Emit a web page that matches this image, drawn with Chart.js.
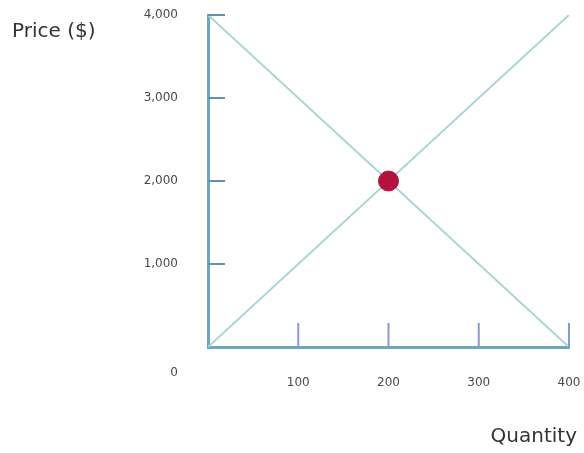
<!DOCTYPE html>
<html>
<head>
<meta charset="utf-8">
<title>Supply and demand</title>
<script src="https://cdn.jsdelivr.net/npm/chart.js@4.4.0/dist/chart.umd.min.js"></script>
<style>
  html, body { margin: 0; padding: 0; background: #fff; }
  canvas { display: block; }
</style>
</head>
<body>
<canvas id="marketChart" width="584" height="453"></canvas>
<script>
// data
const quantities = [0, 400];
const demandPrices = [4000, 0];
const supplyPrices = [0, 4000];
const eqQuantity = [200];
const eqPrice = [2000];
const xTicks = [0, 100, 200, 300, 400];
const yTicks = [0, 1000, 2000, 3000, 4000];

const colors = {
  axis: '#6ca7bd',
  yTick: '#5f93a8',
  xTick: '#8d97cc',
  line: '#a9d4d6',
  point: '#b3123f',
  label: '#4a4a4a',
  title: '#333333'
};

// tick marks drawn inside the plot + the shared "0" + axis titles
const extrasPlugin = {
  id: 'extras',
  afterDraw(chart) {
    const { ctx, scales: { x, y } } = chart;
    ctx.save();
    ctx.lineWidth = 2;
    ctx.strokeStyle = colors.yTick;
    yTicks.forEach(v => {
      if (v === 0) return;
      const py = y.getPixelForValue(v);
      ctx.beginPath();
      ctx.moveTo(x.left, py);
      ctx.lineTo(x.left + 17, py);
      ctx.stroke();
    });
    ctx.strokeStyle = colors.xTick;
    xTicks.forEach(v => {
      if (v === 0) return;
      const px = x.getPixelForValue(v);
      ctx.beginPath();
      ctx.moveTo(px, y.bottom);
      ctx.lineTo(px, y.bottom - 24);
      ctx.stroke();
    });

    ctx.fillStyle = colors.label;
    ctx.font = '12px "DejaVu Sans"';
    ctx.textAlign = 'right';
    ctx.textBaseline = 'middle';
    ctx.fillText('0', x.left - 30, y.getPixelForValue(0) + 26);

    ctx.fillStyle = colors.title;
    ctx.font = '20px "DejaVu Sans"';
    ctx.textAlign = 'left';
    ctx.fillText('Price ($)', 12, 32);
    ctx.textAlign = 'right';
    ctx.fillText('Quantity', 577, 437);
    ctx.restore();
  }
};

new Chart(document.getElementById('marketChart'), {
  type: 'line',
  data: {
    datasets: [
      {
        label: 'Demand',
        data: quantities.map((q, i) => ({ x: q, y: demandPrices[i] })),
        borderColor: colors.line,
        borderWidth: 2,
        pointRadius: 0,
        order: 2
      },
      {
        label: 'Supply',
        data: quantities.map((q, i) => ({ x: q, y: supplyPrices[i] })),
        borderColor: colors.line,
        borderWidth: 2,
        pointRadius: 0,
        order: 2
      },
      {
        label: 'Equilibrium',
        data: eqQuantity.map((q, i) => ({ x: q, y: eqPrice[i] })),
        showLine: false,
        pointRadius: 10,
        pointBackgroundColor: colors.point,
        pointBorderColor: colors.point,
        order: 1
      }
    ]
  },
  options: {
    responsive: false,
    animation: false,
    layout: { padding: { left: 0, top: 15, right: 15, bottom: 0 } },
    plugins: { legend: { display: false }, tooltip: { enabled: false } },
    scales: {
      x: {
        type: 'linear',
        min: 0,
        max: 400,
        afterBuildTicks: s => { s.ticks = xTicks.map(v => ({ value: v })); },
        afterFit: s => { s.height = 106; s.paddingLeft = 0; s.paddingRight = 0; },
        grid: { display: true, drawOnChartArea: false, drawTicks: false },
        border: { display: true, color: colors.axis, width: 3 },
        ticks: {
          padding: 29,
          color: colors.label,
          font: { family: 'DejaVu Sans', size: 12 },
          maxRotation: 0,
          callback: v => v === 0 ? '' : String(v)
        }
      },
      y: {
        type: 'linear',
        min: 0,
        max: 4000,
        afterBuildTicks: s => { s.ticks = yTicks.map(v => ({ value: v })); },
        afterFit: s => { s.width = 208; s.paddingTop = 0; s.paddingBottom = 0; },
        grid: { display: true, drawOnChartArea: false, drawTicks: false },
        border: { display: true, color: colors.axis, width: 3 },
        ticks: {
          padding: 30,
          color: colors.label,
          font: { family: 'DejaVu Sans', size: 12 },
          callback: v => v === 0 ? '' : v.toLocaleString('en-US')
        }
      }
    }
  },
  plugins: [extrasPlugin]
});
</script>
</body>
</html>
